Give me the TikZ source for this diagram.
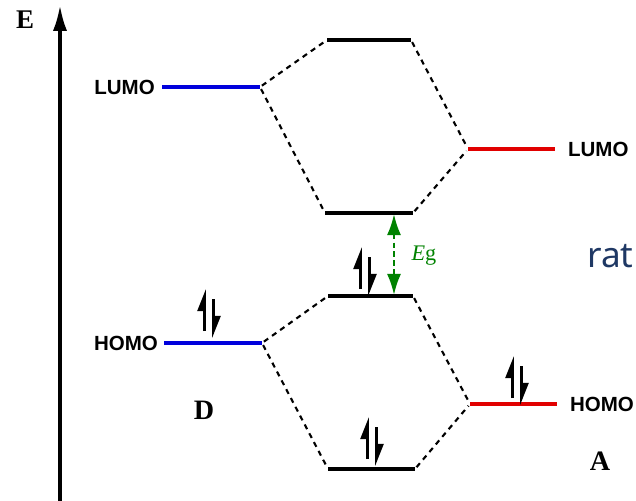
\documentclass[tikz,border=0pt]{standalone}
\usepackage{fontspec}
\setmainfont{Liberation Serif}
\setsansfont{Liberation Sans}
\newfontfamily\ratfont{Noto Sans}
\usetikzlibrary{positioning,arrows.meta,calc}

\definecolor{donorblue}{RGB}{0,0,220}
\definecolor{accred}{RGB}{225,0,0}
\definecolor{gapgreen}{RGB}{0,130,0}
\definecolor{ratblue}{RGB}{31,56,100}

\tikzset{
  level/.style={line width=3pt},
  mix/.style={line width=1.8pt, dash pattern=on 4.5pt off 4pt, shorten <=2pt, shorten >=2pt},
  orblabel/.style={font=\sffamily\bfseries\fontsize{17.5}{17.5}\selectfont, inner sep=0pt},
  molname/.style={font=\bfseries\fontsize{24}{24}\selectfont, inner sep=0pt},
  spinpair/.pic={
    \draw[line width=2.2pt, -{Triangle[left, length=16pt, width=12pt]}] (-4.5,18) -- (-4.5,-24);
    \draw[line width=2.2pt, -{Triangle[left, length=16pt, width=12pt]}] (4.5,-14) -- (4.5,25);
  }
}

\begin{document}
\begin{tikzpicture}[x=0.03cm, y=-0.03cm, >=Latex]
  \useasboundingbox (0,0) rectangle (636,501);

  % energy axis
  \coordinate (axbot) at (60,501);
  \coordinate (axtop) at (60,5);
  \draw[line width=3pt, -{Latex[length=22pt, width=12pt]}] (axbot) -- (axtop);
  \node[font=\bfseries\fontsize{23}{23}\selectfont, inner sep=0pt] (E) at (25,20) {E};

  % donor levels
  \coordinate (dL1) at (162,87);  \coordinate (dL2) at (260,87);
  \coordinate (dH1) at (164,343); \coordinate (dH2) at (262,343);
  \draw[level, donorblue] (dL1) -- (dL2);
  \draw[level, donorblue] (dH1) -- (dH2);
  \node[orblabel, left=6pt of dL1] (dLUMO) {LUMO};
  \node[orblabel, left=5pt of dH1] (dHOMO) {HOMO};

  % acceptor levels
  \coordinate (aL1) at (468,149); \coordinate (aL2) at (555,149);
  \coordinate (aH1) at (470,404); \coordinate (aH2) at (557,404);
  \draw[level, accred] (aL1) -- (aL2);
  \draw[level, accred] (aH1) -- (aH2);
  \node[orblabel, right=11pt of aL2] (aLUMO) {LUMO};
  \node[orblabel, right=11pt of aH2] (aHOMO) {HOMO};

  % blend levels
  \coordinate (m1a) at (327,40);  \coordinate (m1b) at (411,40);
  \coordinate (m2a) at (325,213); \coordinate (m2b) at (413,213);
  \coordinate (m3a) at (328,296); \coordinate (m3b) at (413,296);
  \coordinate (m4a) at (328,469); \coordinate (m4b) at (415,469);
  \draw[level] (m1a) -- (m1b);
  \draw[level] (m2a) -- (m2b);
  \draw[level] (m3a) -- (m3b);
  \draw[level] (m4a) -- (m4b);

  % correlation lines
  \draw[mix] (dL2) -- (m1a);
  \draw[mix] (dL2) -- (m2a);
  \draw[mix] (m1b) -- (aL1);
  \draw[mix] (m2b) -- (aL1);
  \draw[mix] (dH2) -- (m3a);
  \draw[mix] (dH2) -- (m4a);
  \draw[mix] (m3b) -- (aH1);
  \draw[mix] (m4b) -- (aH1);

  % electrons
  \pic at (209,313) {spinpair};
  \pic at (365,271) {spinpair};
  \pic at (372,441) {spinpair};
  \pic at (517,380) {spinpair};

  % band gap
  \coordinate (gTop) at (394,214);
  \coordinate (gBot) at (394,295);
  \draw[gapgreen, line width=2pt, dash pattern=on 4.5pt off 3pt,
        {Latex[length=18pt, width=12pt]}-{Latex[length=18pt, width=12pt]}] (gTop) -- (gBot);
  \node[gapgreen, font=\fontsize{19}{19}\selectfont, inner sep=0pt] (Eg) at (424,256) {\textit{E}g};

  \node[molname] (D) at (204,410) {D};
  \node[molname] (A) at (600,461) {A};

  \node[ratblue, font=\ratfont\fontsize{30}{30}\selectfont, anchor=base west, inner sep=0pt] (rat) at (587,267) {rat};
\end{tikzpicture}
\end{document}
